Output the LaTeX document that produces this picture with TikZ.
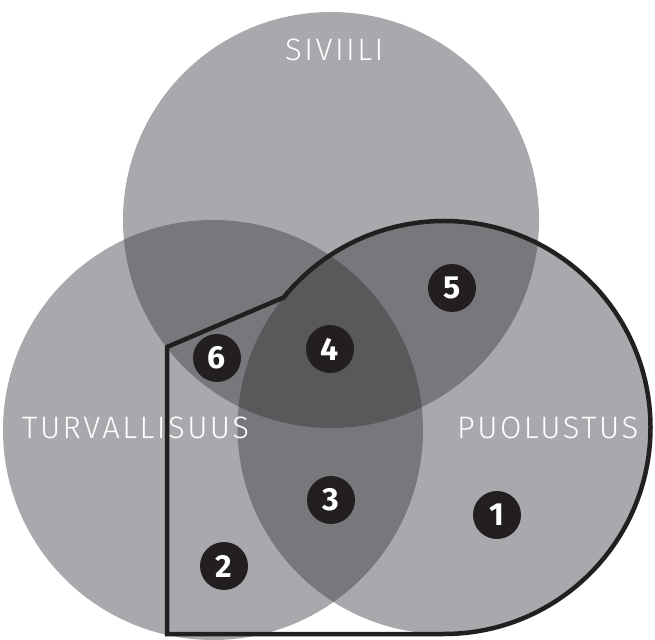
\documentclass[tikz,border=0pt]{standalone}
\usepackage{fontspec}
\setmainfont{Fira Sans}
\newfontfamily\labelfont[LetterSpace=8]{Fira Sans Light}
\definecolor{one}{HTML}{A7A9AC}
\definecolor{two}{HTML}{77787B}
\definecolor{three}{HTML}{58595B}
\definecolor{ink}{HTML}{231F20}
\tikzset{
  badge/.style={circle, fill=ink, minimum size=48pt, inner sep=0pt, text=white,
    font=\fontsize{32}{32}\selectfont\bfseries},
  setlabel/.style={text=white, inner sep=0pt, font=\labelfont\fontsize{31}{31}\selectfont},
  border/.style={draw=ink, line width=4.5pt, line join=miter}
}
\begin{document}
\begin{tikzpicture}[x=1pt, y=1pt]
\useasboundingbox (0,0) rectangle (655,639);
% circle centres
\coordinate (T) at (331,419);
\coordinate (L) at (213,209);
\coordinate (R) at (444,211.5);
% single areas
\fill[one] (T) circle[radius=208];
\fill[one] (L) circle[radius=210];
\fill[one] (R) circle[radius=206.5];
% pairwise overlaps
\begin{scope}
  \clip (T) circle[radius=208];
  \fill[two] (L) circle[radius=210];
  \fill[two] (R) circle[radius=206.5];
\end{scope}
\begin{scope}
  \clip (L) circle[radius=210];
  \fill[two] (R) circle[radius=206.5];
\end{scope}
% common core
\begin{scope}
  \clip (T) circle[radius=208];
  \clip (L) circle[radius=210];
  \fill[three] (R) circle[radius=206.5];
\end{scope}
% set names
\node[setlabel, anchor=base west] (siviili) at (285,578) {SIVIILI};
\node[setlabel, anchor=base west] (turva) at (22,200) {TURVALLISUUS};
\node[setlabel, anchor=base west] (puolustus) at (457,200) {PUOLUSTUS};
% bold outline around the defence area
\coordinate (c0) at (167,292);
\coordinate (c1) at (167,5);
\coordinate (c2) at (444,5);
\draw[border] (c0) -- (c1) -- (c2) arc[start angle=-90, end angle=141, radius=206.5] -- cycle;
% numbered markers
\node[badge] (b1) at (497,124) {1};
\node[badge] (b2) at (224,73) {2};
\node[badge] (b3) at (331,139) {3};
\node[badge] (b4) at (330,290) {4};
\node[badge] (b5) at (452,351) {5};
\node[badge] (b6) at (217,281) {6};
\end{tikzpicture}
\end{document}
